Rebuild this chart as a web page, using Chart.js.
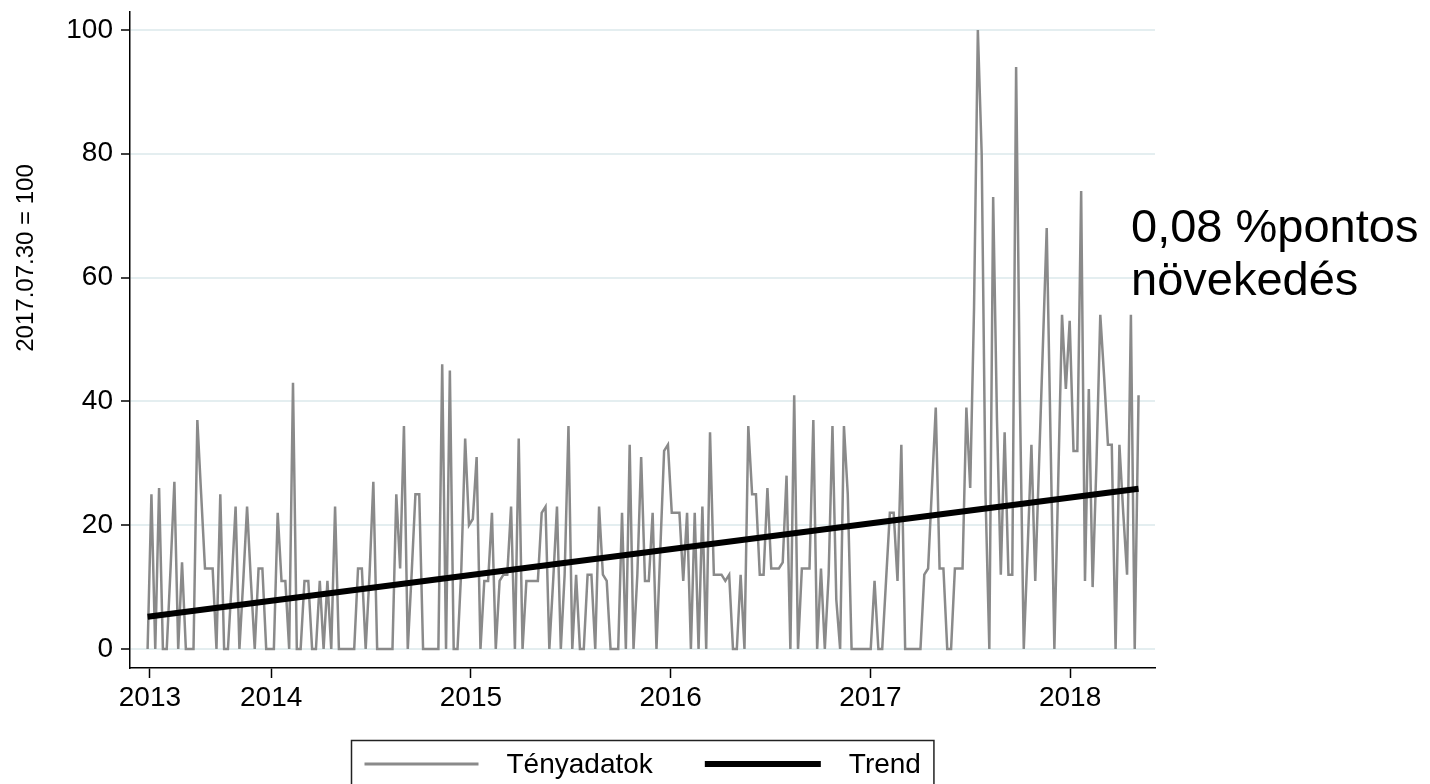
<!DOCTYPE html>
<html>
<head>
<meta charset="utf-8">
<script src="https://cdn.jsdelivr.net/npm/chart.js@4.4.1/dist/chart.umd.min.js"></script>
<style>
  html, body { margin: 0; padding: 0; background: #fff; }
  #wrap { position: relative; width: 1430px; height: 784px; }
</style>
</head>
<body>
<div id="wrap"><canvas id="chart" width="1430" height="784"></canvas></div>
<script>
// weekly values, first week = late May 2013
var actual = [
  0, 25, 0, 26, 0, 0, 13, 27, 0, 14,
  0, 0, 0, 37, 25, 13, 13, 13, 0, 25,
  0, 0, 11, 23, 0, 11, 23, 11, 0, 13,
  13, 0, 0, 0, 22, 11, 11, 0, 43, 0,
  0, 11, 11, 0, 0, 11, 0, 11, 0, 23,
  0, 0, 0, 0, 0, 13, 13, 0, 12, 27,
  0, 0, 0, 0, 0, 25, 13, 36, 0, 12,
  25, 25, 0, 0, 0, 0, 0, 46, 0, 45,
  0, 0, 13, 34, 20, 21, 31, 0, 11, 11,
  22, 0, 11, 12, 12, 23, 0, 34, 0, 11,
  11, 11, 11, 22, 23, 0, 11, 23, 0, 12,
  36, 0, 12, 0, 0, 12, 12, 0, 23, 12,
  11, 0, 0, 0, 22, 0, 33, 0, 12, 31,
  11, 11, 22, 0, 16, 32, 33, 22, 22, 22,
  11, 22, 0, 22, 0, 23, 0, 35, 12, 12,
  12, 11, 12, 0, 0, 12, 0, 36, 25, 25,
  12, 12, 26, 13, 13, 13, 14, 28, 0, 41,
  0, 13, 13, 13, 37, 0, 13, 0, 12, 36,
  8, 0, 36, 25, 0, 0, 0, 0, 0, 0,
  11, 0, 0, 11, 22, 22, 11, 33, 0, 0,
  0, 0, 0, 12, 13, 26, 39, 13, 13, 0,
  0, 13, 13, 13, 39, 26, 55, 100, 80, 25,
  0, 73, 37, 12, 35, 12, 12, 94, 40, 0,
  16, 33, 11, 30, 49, 68, 34, 0, 27, 54,
  42, 53, 32, 32, 74, 11, 42, 10, 30, 54,
  44, 33, 33, 0, 33, 22, 12, 54, 0, 41
];
var trendEnds = [5.2, 25.9];          // fitted trend at first and last week
var tickYears = ['2013', '2014', '2015', '2016', '2017', '2018'];
var tickWeeks = [0.6, 32.3, 84.5, 136.7, 188.9, 241.1];
var yTicks = [0, 20, 40, 60, 80, 100];
var seriesNames = ['Tényadatok', 'Trend'];
var yTitle = '2017.07.30 = 100';
var noteLines = ['0,08 %pontos', 'növekedés'];

var FONT = "'Liberation Sans', Arial, sans-serif";

var extras = {
  id: 'extras',
  afterDraw: function(chart) {
    var c = chart.ctx, a = chart.chartArea;
    c.save();
    c.fillStyle = '#000';

    // y title
    c.save();
    c.translate(26, 258);
    c.rotate(-Math.PI / 2);
    c.font = '24px ' + FONT;
    c.textAlign = 'center';
    c.textBaseline = 'middle';
    c.fillText(yTitle, 0, 0);
    c.restore();

    // annotation
    c.font = '47px ' + FONT;
    c.textBaseline = 'alphabetic';
    c.textAlign = 'left';
    c.fillText(noteLines[0], 1131, 242);
    c.fillText(noteLines[1], 1131, 295);

    // legend box
    c.font = '28px ' + FONT;
    var w1 = c.measureText(seriesNames[0]).width;
    var w2 = c.measureText(seriesNames[1]).width;
    var pad = 13, line1 = 114, line2 = 116, gap = 28, sep = 52;
    var total = pad + line1 + gap + w1 + sep + line2 + gap + w2 + pad;
    var cx = (a.left + a.right) / 2;
    var x0 = Math.round(cx - total / 2) + 0.5;
    var top = 740.5, mid = 764;
    c.strokeStyle = '#222';
    c.lineWidth = 1.5;
    c.strokeRect(x0, top, total, 60);
    var x = x0 + pad;
    c.strokeStyle = '#8a8a8a';
    c.lineWidth = 3;
    c.beginPath(); c.moveTo(x, mid); c.lineTo(x + line1, mid); c.stroke();
    x += line1 + gap;
    c.textBaseline = 'middle';
    c.fillText(seriesNames[0], x, mid + 1);
    x += w1 + sep;
    c.strokeStyle = '#000';
    c.lineWidth = 6;
    c.beginPath(); c.moveTo(x, mid); c.lineTo(x + line2, mid); c.stroke();
    x += line2 + gap;
    c.fillText(seriesNames[1], x, mid + 1);
    c.restore();
  }
};

var ctx = document.getElementById('chart').getContext('2d');
var chart = new Chart(ctx, {
  type: 'line',
  data: {
    datasets: [
      {
        label: seriesNames[0],
        data: actual.map(function(v, i) { return {x: i, y: v}; }),
        borderColor: '#8a8a8a',
        borderWidth: 2.5,
        pointRadius: 0,
        tension: 0,
        order: 1
      },
      {
        label: seriesNames[1],
        data: [{x: 0, y: trendEnds[0]}, {x: actual.length - 1, y: trendEnds[1]}],
        borderColor: '#000',
        borderWidth: 6,
        pointRadius: 0,
        order: 0
      }
    ]
  },
  options: {
    responsive: false,
    animation: false,
    layout: { padding: { top: 12, right: 275, bottom: 71, left: 0 } },
    plugins: { legend: { display: false }, tooltip: { enabled: false } },
    scales: {
      x: {
        type: 'linear',
        min: -4.6,
        max: 263.3,
        afterBuildTicks: function(s) { s.ticks = tickWeeks.map(function(v) { return {value: v}; }); },
        afterFit: function(s) { s.height = 45; s.paddingLeft = 0; s.paddingRight = 0; },
        ticks: {
          callback: function(v, i) { return tickYears[i]; },
          font: { family: FONT, size: 28 },
          color: '#000',
          padding: 3,
          maxRotation: 0,
          autoSkip: false
        },
        grid: { drawOnChartArea: false, tickLength: 10, tickColor: '#000', tickWidth: 1.5 },
        border: { color: '#000', width: 1.5 }
      },
      y: {
        min: -3.07,
        max: 102.9,
        afterBuildTicks: function(s) { s.ticks = yTicks.map(function(v) { return {value: v}; }); },
        afterFit: function(s) { s.width = 130; s.paddingTop = 0; s.paddingBottom = 0; },
        ticks: {
          font: { family: FONT, size: 28 },
          color: '#000',
          padding: 8
        },
        grid: { color: '#e4eef0', lineWidth: 2, tickLength: 9, tickColor: '#000', tickWidth: 1.5 },
        border: { color: '#000', width: 1.5 }
      }
    }
  },
  plugins: [extras]
});
</script>
</body>
</html>
